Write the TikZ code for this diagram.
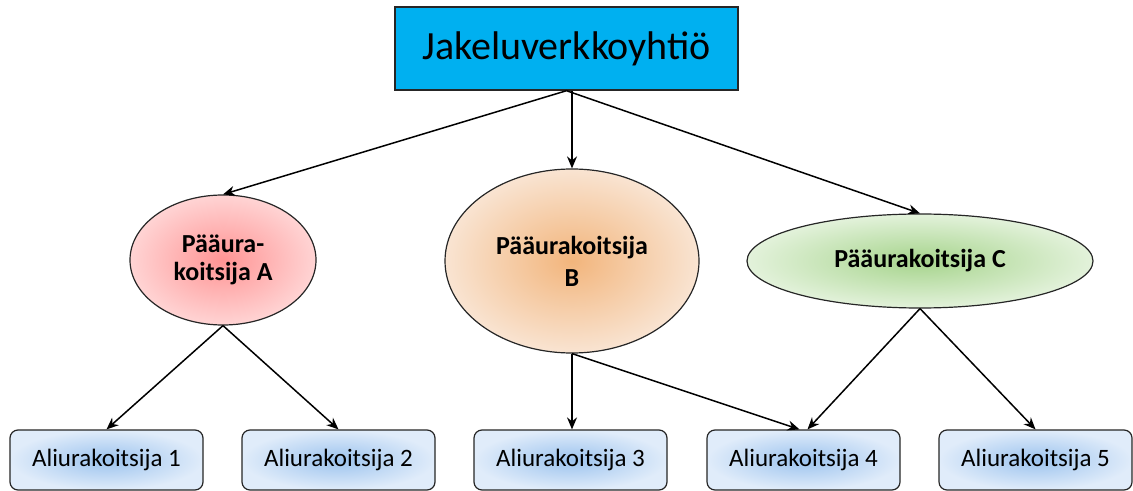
\documentclass[tikz,border=0pt]{standalone}
\usepackage{fontspec}
\setmainfont{Carlito}
\usetikzlibrary{shapes.geometric,arrows.meta}
\definecolor{topblue}{HTML}{00B0F0}
\definecolor{aIn}{HTML}{FF9494}
\definecolor{aOut}{HTML}{FFD4D4}
\definecolor{bIn}{HTML}{F2B57C}
\definecolor{bOut}{HTML}{F9E4D2}
\definecolor{cIn}{HTML}{A6D48C}
\definecolor{cOut}{HTML}{E3F2DB}
\definecolor{boxIn}{HTML}{9CC3EE}
\definecolor{boxOut}{HTML}{E0ECFA}
\tikzset{
  topbox/.style={draw=black!85, line width=0.7pt, fill=topblue, minimum width=171.5pt, minimum height=41.5pt, inner sep=0pt, font=\fontsize{20}{24}\selectfont},
  mainell/.style={ellipse, draw=black!85, line width=0.6pt, inner sep=0pt, align=center, font=\bfseries\fontsize{13}{15}\selectfont},
  subbox/.style={draw=black!85, line width=0.6pt, rounded corners=4pt, minimum width=96.5pt, minimum height=30pt, inner sep=0pt, shading=radial, inner color=boxIn, outer color=boxOut, font=\fontsize{12.5}{14}\selectfont},
  conn/.style={draw=black, line width=0.75pt, -{Stealth[length=6pt,width=5pt]}}
}
\begin{document}
\begin{tikzpicture}[x=0.5pt,y=-0.5pt]
\useasboundingbox (0,0) rectangle (1133,491);
\node[topbox] (top) at (566.5,48.5) {Jakeluverkkoyhtiö};
\node[mainell, minimum width=93pt, minimum height=65pt, shading=radial, inner color=aIn, outer color=aOut] (A) at (223,260) {Pääura-\\[-1pt]koitsija A};
\node[mainell, minimum width=127pt, minimum height=92pt, shading=radial, inner color=bIn, outer color=bOut] (B) at (572,261) {Pääurakoitsija\\[1pt]B};
\node[mainell, minimum width=173pt, minimum height=47pt, shading=radial, inner color=cIn, outer color=cOut] (C) at (920,261) {Pääurakoitsija C};
\node[subbox] (s1) at (106.5,460) {Aliurakoitsija 1};
\node[subbox] (s2) at (338.5,460) {Aliurakoitsija 2};
\node[subbox] (s3) at (570.5,460) {Aliurakoitsija 3};
\node[subbox] (s4) at (803.5,460) {Aliurakoitsija 4};
\node[subbox] (s5) at (1035.5,460) {Aliurakoitsija 5};
\draw[conn] (top.south) -- (A.north);
\draw[conn] (B.north |- top.south) -- (B.north);
\draw[conn] (top.south) -- (C.north);
\draw[conn] (A.south) -- (s1.north);
\draw[conn] (A.south) -- (s2.north);
\draw[conn] (B.south) -- (B.south |- s3.north);
\draw[conn] (B.south) -- ([xshift=-2pt]s4.north);
\draw[conn] (C.south) -- ([xshift=2pt]s4.north);
\draw[conn] (C.south) -- (s5.north);
\end{tikzpicture}
\end{document}
